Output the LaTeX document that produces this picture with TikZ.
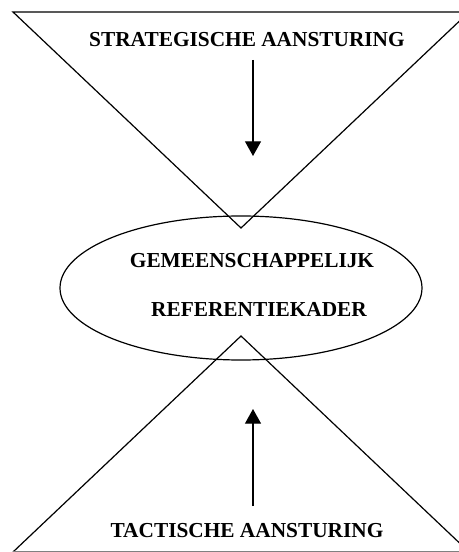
\documentclass[tikz,border=0pt]{standalone}
\usepackage{fontspec}
\setmainfont{Liberation Serif}
\usetikzlibrary{arrows.meta}

\tikzset{
  label/.style={anchor=base,inner sep=0.75pt,font=\fontsize{16}{19}\selectfont\bfseries},
  flow/.style={line width=0.9pt,-{Triangle[length=11pt,width=12pt]}}
}

\begin{document}
\begin{tikzpicture}[x=0.75pt,y=0.75pt,yscale=-1,xscale=1]
        \useasboundingbox (0,0) rectangle (459,552);
        \clip (0,0) rectangle (459,552);

        % triangles and ellipse
        \draw [line width=0.9pt]  (13,12) -- (469,12) -- (241,228) -- cycle ;
        \draw [line width=0.9pt]  (13,552) -- (241,336) -- (469,552) ;
        \draw [color=gray,line width=0.9pt]  (13,551.5) -- (469,551.5) ;
        \draw [line width=0.9pt]  (241,288) ellipse (181 and 72) ;

        % texts
        \node (strat) [label] at (247,47) {STRATEGISCHE AANSTURING};
        \node (gem) [label] at (252,267) {GEMEENSCHAPPELIJK};
        \node (ref) [label] at (259,316) {REFERENTIEKADER};
        \node (tact) [label] at (247,537) {TACTISCHE AANSTURING};

        % arrows
        \coordinate (s1) at (253,60);
        \coordinate (s2) at (253,156);
        \coordinate (t1) at (253,506);
        \coordinate (t2) at (253,409);
        \draw [flow] (s1) -- (s2) ;
        \draw [flow] (t1) -- (t2) ;
\end{tikzpicture}
\end{document}
